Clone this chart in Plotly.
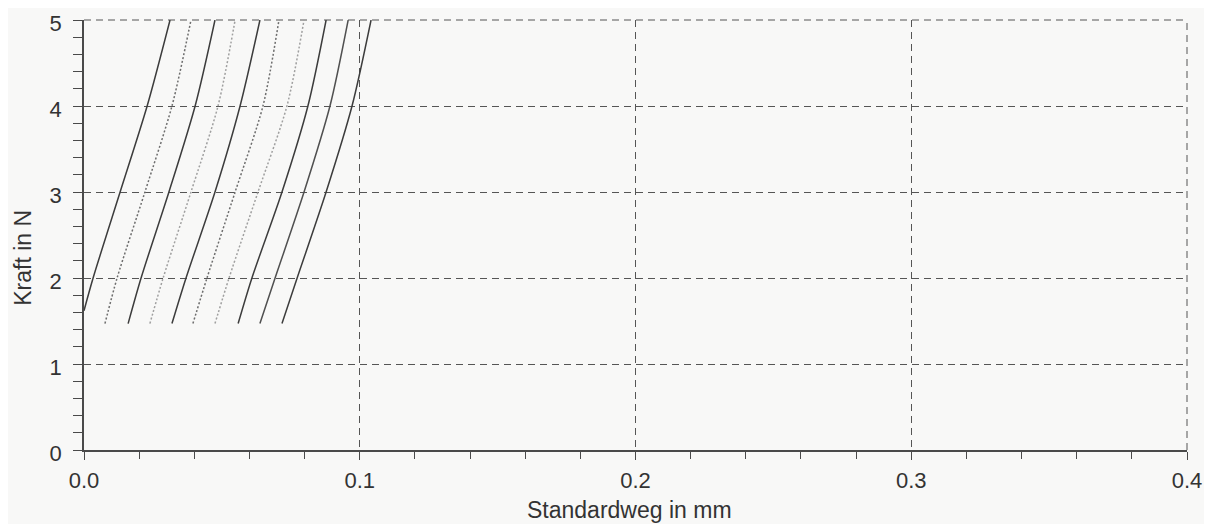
import plotly.graph_objects as go

# Force levels (N) at which the displacement of each curve was read
force_c1 = [1.62, 2.0, 3.0, 4.0, 5.0]
force_cn = [1.47, 2.0, 3.0, 4.0, 5.0]

# Displacement (mm) of each loading curve at those force levels
weg_c1 = [0.0000, 0.0033, 0.0131, 0.0229, 0.0312]
weg_c2 = [0.0076, 0.0120, 0.0221, 0.0319, 0.0388]
weg_c3 = [0.0160, 0.0207, 0.0308, 0.0403, 0.0475]
weg_c4 = [0.0239, 0.0287, 0.0388, 0.0486, 0.0548]
weg_c5 = [0.0319, 0.0370, 0.0475, 0.0566, 0.0638]
weg_c6 = [0.0395, 0.0446, 0.0548, 0.0649, 0.0707]
weg_c7 = [0.0475, 0.0526, 0.0631, 0.0736, 0.0798]
weg_c8 = [0.0559, 0.0609, 0.0718, 0.0812, 0.0878]
weg_c9 = [0.0638, 0.0693, 0.0798, 0.0892, 0.0958]
weg_c10 = [0.0718, 0.0773, 0.0878, 0.0972, 0.1041]

x_ticks = [0.0, 0.1, 0.2, 0.3, 0.4]
x_ticklabels = ["0.0", "0.1", "0.2", "0.3", "0.4"]
y_ticks = [0, 1, 2, 3, 4, 5]
y_ticklabels = ["0", "1", "2", "3", "4", "5"]
x_max = 0.4
y_max = 5

curves = [
    (weg_c1, force_c1, "solid", "#3c3c3c"),
    (weg_c2, force_cn, "2px,2px", "#6e6e6e"),
    (weg_c3, force_cn, "solid", "#3c3c3c"),
    (weg_c4, force_cn, "2px,2px", "#a0a0a0"),
    (weg_c5, force_cn, "solid", "#3c3c3c"),
    (weg_c6, force_cn, "2px,2px", "#6e6e6e"),
    (weg_c7, force_cn, "2px,2px", "#a0a0a0"),
    (weg_c8, force_cn, "solid", "#3c3c3c"),
    (weg_c9, force_cn, "solid", "#505050"),
    (weg_c10, force_cn, "solid", "#3c3c3c"),
]

fig = go.Figure()
for xs, ys, dash, col in curves:
    fig.add_trace(go.Scatter(
        x=xs, y=ys, mode="lines",
        line=dict(color=col, width=1.5, dash=dash, shape="spline", smoothing=0.8),
        showlegend=False, hoverinfo="skip",
    ))

FONT = "Liberation Sans, Arial, Helvetica, sans-serif"
AX = "#4a4a4a"
GRID = "#555555"
DASH = "7px,5px"

# Dashed grid lines along the upper/right frame (plotly omits them at range ends)
fig.add_shape(type="line", xref="paper", yref="paper", x0=0, x1=1, y0=1, y1=1,
              line=dict(color=GRID, width=1, dash=DASH), layer="below")
fig.add_shape(type="line", xref="paper", yref="paper", x0=1, x1=1, y0=0, y1=1,
              line=dict(color=GRID, width=1, dash=DASH), layer="below")

fig.update_layout(
    width=1204, height=516,
    margin=dict(l=76, r=25, t=12, b=74, autoexpand=False),
    paper_bgcolor="#f8f8f7", plot_bgcolor="#f8f8f7",
    font=dict(family=FONT, size=22, color="#333333"),
    xaxis=dict(
        range=[0, x_max], tickvals=x_ticks, ticktext=x_ticklabels,
        ticks="outside", ticklen=8, tickwidth=1.3, tickcolor=AX,
        minor=dict(tick0=0, dtick=0.02, ticks="outside", ticklen=7,
                   tickwidth=1.2, tickcolor=AX, showgrid=False),
        showline=True, linecolor=AX, linewidth=1.5,
        showgrid=True, gridcolor=GRID, gridwidth=1, griddash=DASH,
        zeroline=False, tickfont=dict(size=22, color="#333333"),
        ticklabelstandoff=2, ticklabeloverflow="allow", automargin=False,
    ),
    xaxis2=dict(
        overlaying="x", anchor="y", side="bottom", range=[0, x_max],
        tickvals=x_ticks, ticks="inside", ticklen=8, tickwidth=1.3, tickcolor=AX,
        minor=dict(tick0=0, dtick=0.02, ticks="inside", ticklen=7,
                   tickwidth=1.2, tickcolor=AX, showgrid=False),
        showticklabels=False, showgrid=False, showline=False, zeroline=False,
        automargin=False,
    ),
    yaxis=dict(
        range=[0, y_max], tickvals=y_ticks, ticktext=y_ticklabels,
        ticks="outside", ticklen=9, tickwidth=1.3, tickcolor=AX,
        minor=dict(tick0=0, dtick=0.2, ticks="outside", ticklen=9,
                   tickwidth=1.2, tickcolor=AX, showgrid=False),
        showline=True, linecolor=AX, linewidth=1.5,
        showgrid=True, gridcolor=GRID, gridwidth=1, griddash=DASH,
        zeroline=False, tickfont=dict(size=22, color="#333333"),
        ticklabelstandoff=7, ticklabelshift=3,
        ticklabeloverflow="allow", automargin=False,
    ),
    yaxis2=dict(
        overlaying="y", anchor="x", side="left", range=[0, y_max],
        tickvals=y_ticks, ticks="inside", ticklen=9, tickwidth=1.3, tickcolor=AX,
        minor=dict(tick0=0, dtick=0.2, ticks="inside", ticklen=9,
                   tickwidth=1.2, tickcolor=AX, showgrid=False),
        showticklabels=False, showgrid=False, showline=False, zeroline=False,
        automargin=False,
    ),
    annotations=[
        dict(text="Standardweg in mm", xref="paper", yref="paper",
             x=0.495, y=0, yshift=-60, xanchor="center", yanchor="middle",
             showarrow=False, font=dict(size=23, color="#333333")),
        dict(text="Kraft in N", xref="paper", yref="paper",
             x=0, xshift=-61, y=0.447, xanchor="center", yanchor="middle",
             textangle=-90, showarrow=False, font=dict(size=23, color="#333333")),
    ],
)

fig.write_html("out.html")
